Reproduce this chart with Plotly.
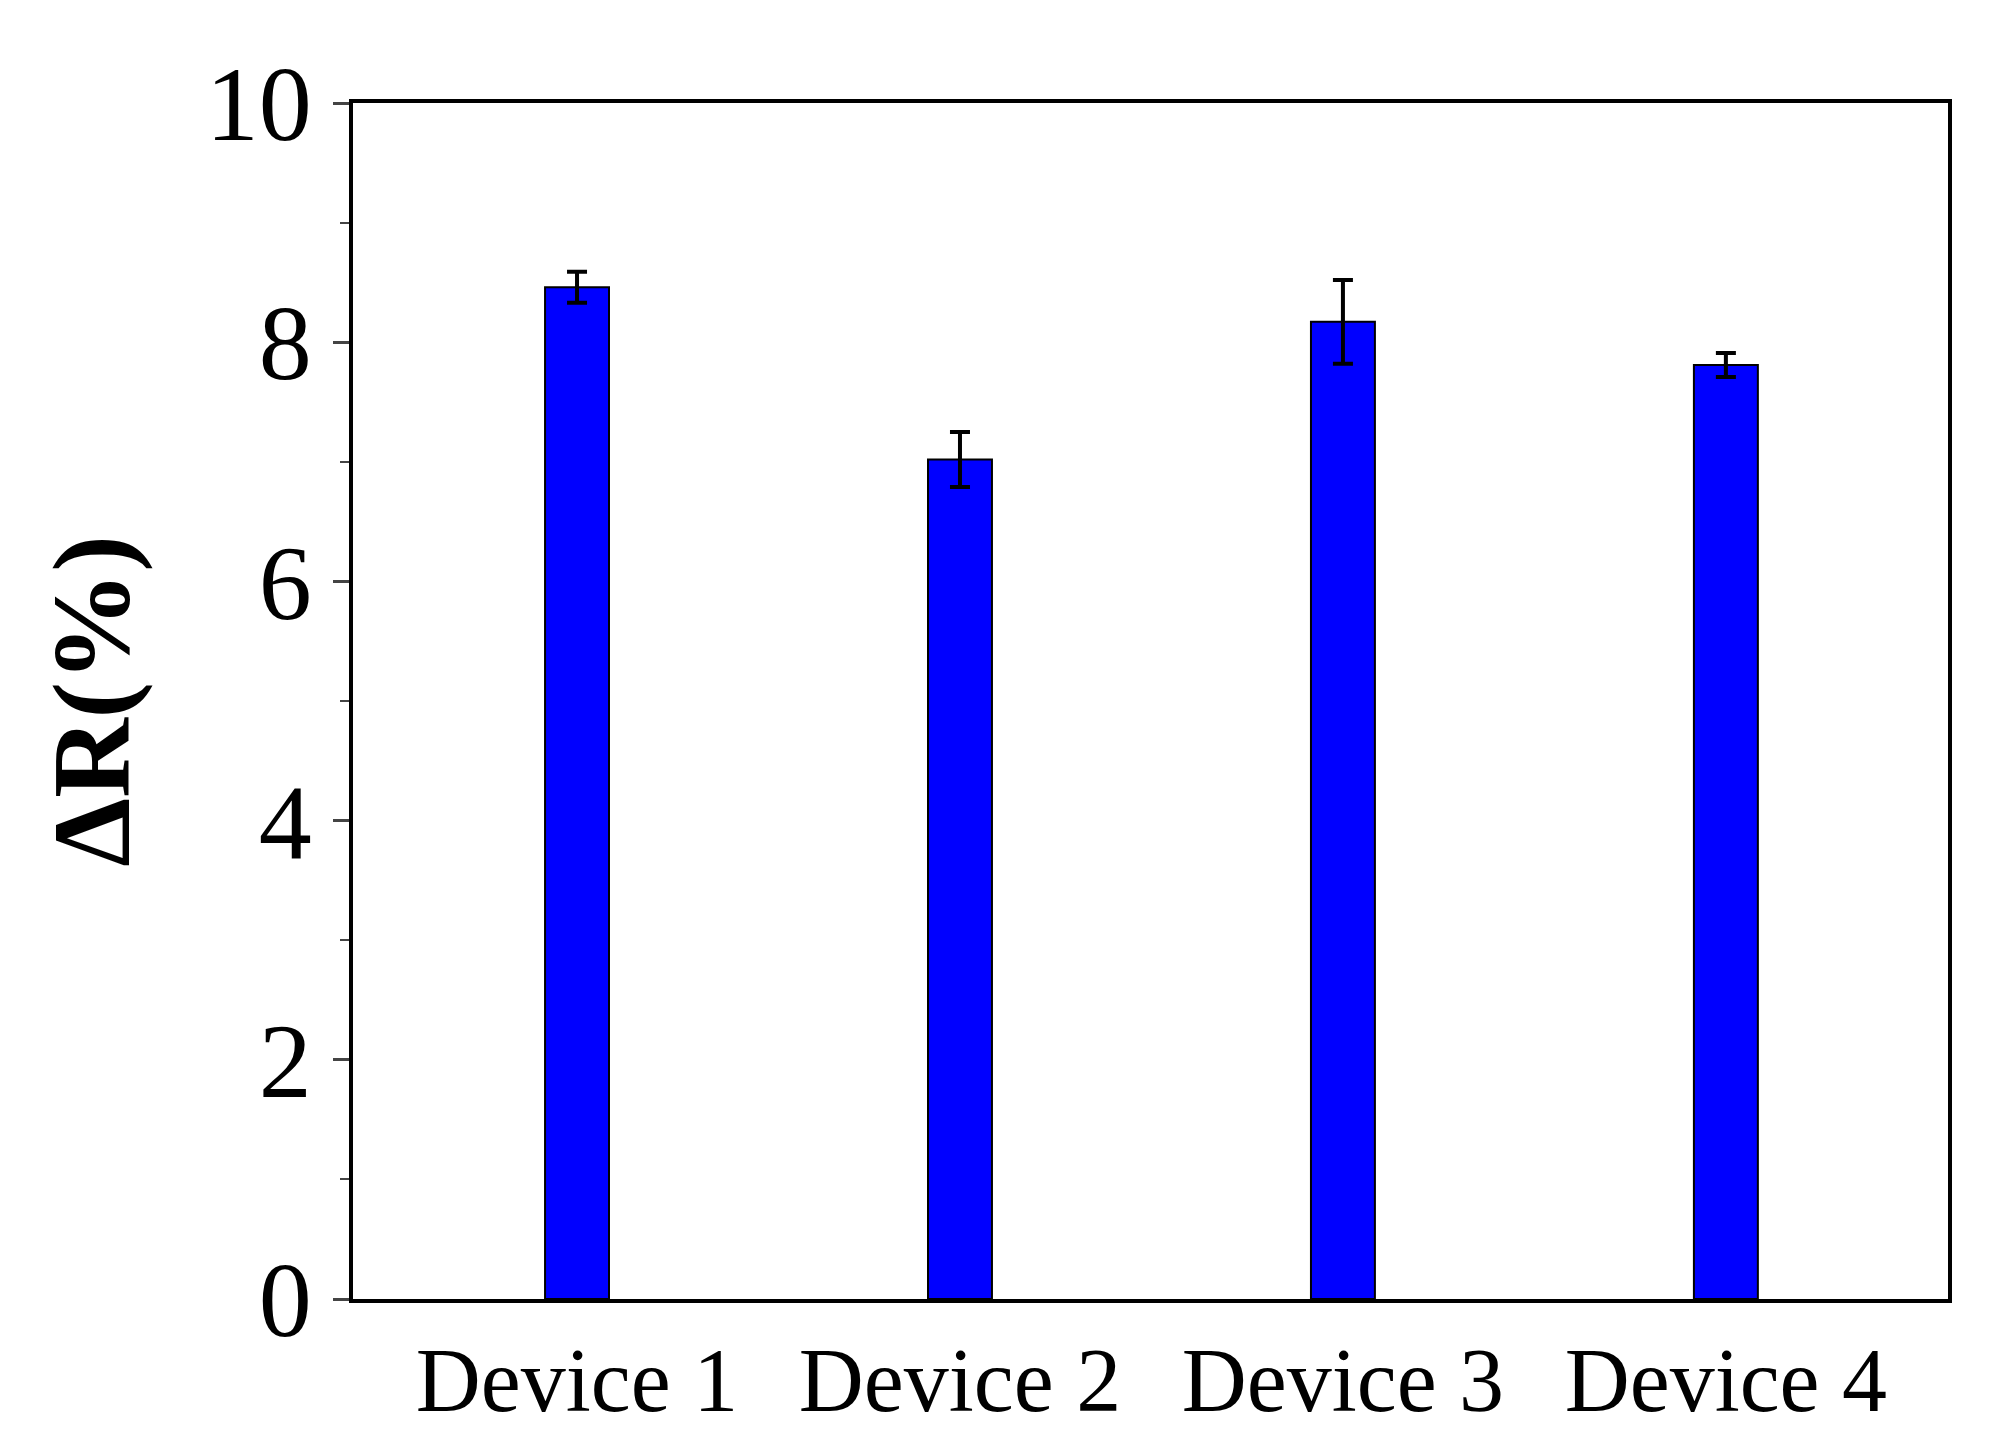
import plotly.graph_objects as go

devices = ['Device 1', 'Device 2', 'Device 3', 'Device 4']
delta_r = [8.46, 7.02, 8.17, 7.81]
errors = [0.13, 0.23, 0.35, 0.10]

fig = go.Figure()
fig.add_trace(go.Bar(
    x=devices, y=delta_r,
    width=0.167,
    marker=dict(color='#0000FF', line=dict(color='black', width=2)),
    error_y=dict(type='data', array=errors, color='black', thickness=4, width=10),
))

fig.update_layout(
    width=2007, height=1434,
    margin=dict(l=345, r=67, t=95, b=136),
    plot_bgcolor='white', paper_bgcolor='white',
    font=dict(family='Liberation Serif', color='black'),
    showlegend=False,
)
fig.update_xaxes(
    range=[-0.585, 3.58], showline=True, linewidth=4, linecolor='black',
    mirror=True, ticks='', tickfont=dict(size=90),
)
fig.update_yaxes(
    range=[0, 10], dtick=2, showline=True, linewidth=4, linecolor='black',
    mirror=True, ticks='outside', ticklen=16, tickwidth=3,
    minor=dict(dtick=1, ticks='outside', ticklen=9, tickwidth=2),
    showgrid=False, zeroline=False, tickfont=dict(size=106),
    title=dict(text='<b>ΔR(%)</b>', font=dict(size=110), standoff=40),
)

fig.write_html('out.html')
